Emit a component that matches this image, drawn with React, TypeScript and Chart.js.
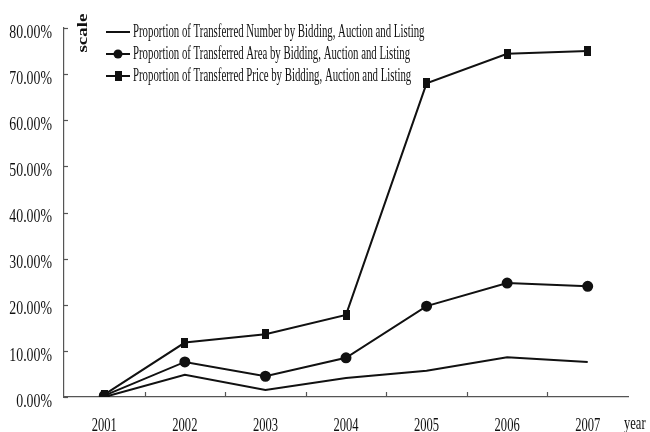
import React, { useEffect, useRef } from "react";
import { Chart, registerables } from "chart.js";

Chart.register(...registerables);

const years = ["2001", "2002", "2003", "2004", "2005", "2006", "2007"];
const numberShare = [0.0, 4.8, 1.5, 4.1, 5.7, 8.6, 7.6];
const areaShare = [0.3, 7.6, 4.5, 8.5, 19.7, 24.7, 24.0];
const priceShare = [0.5, 11.8, 13.6, 17.8, 68.0, 74.4, 75.0];
const seriesLabels = [
  "Proportion of Transferred Number by Bidding, Auction and Listing",
  "Proportion of Transferred Area by Bidding, Auction and Listing",
  "Proportion of Transferred Price by Bidding, Auction and Listing",
];
const yTickValues = [0, 10, 20, 30, 40, 50, 60, 70, 80];
const xAxisTitle = "year";
const yAxisTitle = "scale";

const FONT = "'Liberation Serif', 'Times New Roman', serif";
const INK = "#111";
const AXIS = "#555";

function makeSquare(): HTMLCanvasElement {
  const c = document.createElement("canvas");
  c.width = 7;
  c.height = 10;
  const g = c.getContext("2d")!;
  g.fillStyle = INK;
  g.fillRect(0, 0, 7, 10);
  return c;
}

function drawText(
  ctx: CanvasRenderingContext2D,
  text: string,
  x: number,
  y: number,
  font: string,
  sx: number,
  align: CanvasTextAlign,
  rotate = 0
) {
  ctx.save();
  ctx.translate(x, y);
  if (rotate) ctx.rotate(rotate);
  ctx.scale(rotate ? 1 : sx, rotate ? sx : 1);
  ctx.font = font;
  ctx.fillStyle = INK;
  ctx.textAlign = align;
  ctx.textBaseline = "middle";
  ctx.fillText(text, 0, 0);
  ctx.restore();
}

export default function App() {
  const ref = useRef<HTMLCanvasElement>(null);

  useEffect(() => {
    const square = makeSquare();

    const decor = {
      id: "decor",
      afterDraw(chart: any) {
        const ctx: CanvasRenderingContext2D = chart.ctx;
        const xs = chart.scales.x;
        const ys = chart.scales.y;
        const area = chart.chartArea;
        ctx.save();
        ctx.strokeStyle = AXIS;
        ctx.lineWidth = 1.2;
        ys.ticks.forEach((t: any) => {
          const py = Math.round(ys.getPixelForValue(t.value)) + 0.5;
          ctx.beginPath();
          ctx.moveTo(area.left, py);
          ctx.lineTo(area.left + 4, py);
          ctx.stroke();
        });
        for (let i = 0; i < years.length - 1; i++) {
          const px = (xs.getPixelForValue(i) + xs.getPixelForValue(i + 1)) / 2;
          ctx.beginPath();
          ctx.moveTo(Math.round(px) + 0.5, area.bottom);
          ctx.lineTo(Math.round(px) + 0.5, area.bottom - 5);
          ctx.stroke();
        }
        ctx.restore();

        ys.ticks.forEach((t: any) => {
          const py = ys.getPixelForValue(t.value);
          drawText(ctx, t.value.toFixed(2) + "%", 52, py + 5, `18px ${FONT}`, 0.77, "right");
        });
        years.forEach((y, i) => {
          drawText(ctx, y, xs.getPixelForValue(i), 426, `19px ${FONT}`, 0.66, "center");
        });
        drawText(ctx, xAxisTitle, 624, 424, `19px ${FONT}`, 0.66, "left");
        drawText(ctx, yAxisTitle, 83, 33, `bold 19px ${FONT}`, 0.76, "center", -Math.PI / 2);

        const rows = [32, 54, 76];
        chart.data.datasets.forEach((ds: any, i: number) => {
          const ry = rows[i];
          ctx.save();
          ctx.strokeStyle = INK;
          ctx.lineWidth = 2;
          ctx.beginPath();
          ctx.moveTo(106, ry);
          ctx.lineTo(130, ry);
          ctx.stroke();
          if (i === 1) {
            ctx.fillStyle = INK;
            ctx.beginPath();
            ctx.arc(118, ry, 4.5, 0, Math.PI * 2);
            ctx.fill();
          } else if (i === 2) {
            ctx.drawImage(square, 115, ry - 5);
          }
          ctx.restore();
          drawText(ctx, ds.label, 133, ry, `18px ${FONT}`, 0.6, "left");
        });
      },
    };

    const chart = new Chart(ref.current!, {
      type: "line",
      data: {
        labels: years,
        datasets: [
          {
            label: seriesLabels[0],
            data: numberShare,
            borderColor: INK,
            backgroundColor: INK,
            borderWidth: 2,
            pointRadius: 0,
            tension: 0,
          },
          {
            label: seriesLabels[1],
            data: areaShare,
            borderColor: INK,
            backgroundColor: INK,
            borderWidth: 2,
            pointStyle: "circle",
            pointRadius: 4.5,
            tension: 0,
          },
          {
            label: seriesLabels[2],
            data: priceShare,
            borderColor: INK,
            backgroundColor: INK,
            borderWidth: 2,
            pointStyle: square as any,
            pointRadius: 5,
            tension: 0,
          },
        ],
      },
      options: {
        responsive: false,
        animation: false,
        layout: { padding: { top: 28, right: 22, left: 0, bottom: 0 } },
        plugins: { legend: { display: false }, tooltip: { enabled: false } },
        scales: {
          x: {
            type: "category",
            offset: true,
            grid: { display: false },
            border: { display: true, color: AXIS, width: 1.2 },
            ticks: { display: false },
            afterFit: (s: any) => {
              s.height = 35;
            },
          },
          y: {
            min: 0,
            max: 80,
            grid: { display: false },
            border: { display: true, color: AXIS, width: 1.2 },
            ticks: { display: false, stepSize: 10 },
            afterBuildTicks: (s: any) => {
              s.ticks = yTickValues.map((v) => ({ value: v }));
            },
            afterFit: (s: any) => {
              s.width = 64;
            },
          },
        },
      },
      plugins: [decor],
    });
    return () => chart.destroy();
  }, []);

  return (
    <div style={{ position: "absolute", left: 0, top: 0, width: 650, height: 432, background: "#fff" }}>
      <canvas ref={ref} width={650} height={432} />
    </div>
  );
}
